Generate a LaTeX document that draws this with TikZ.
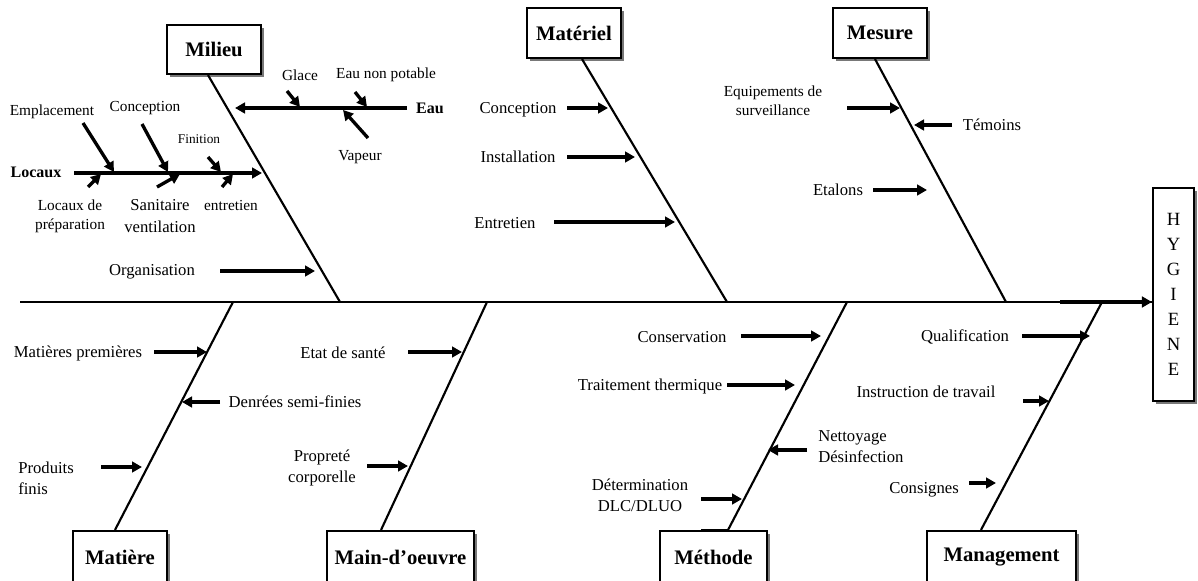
\documentclass[tikz,border=0pt]{standalone}
\usepackage{fontspec}
\setmainfont{Liberation Serif}
\usepackage{xcolor}
\usepackage{tikz}
\usetikzlibrary{positioning, arrows.meta, shadows}
\definecolor{ink}{RGB}{0,0,0}
\definecolor{shade}{RGB}{120,120,120}
\tikzset{
  catbox/.style  ={rectangle, draw=ink, line width=1.6pt, fill=white, inner sep=2pt,
                   font=\fontsize{15.5}{18}\selectfont\bfseries,
                   drop shadow={shadow xshift=2.6pt, shadow yshift=-2.6pt, fill=shade, opacity=1}},
  bone/.style    ={line width=1.6pt, color=ink},
  arr/.style     ={-{Triangle[length=7.5pt, width=8pt]}, line width=2.5pt, color=ink},
  lbl/.style     ={font=\fontsize{12.5}{16}\selectfont, inner sep=0pt, align=center},
  smalllbl/.style={lbl, font=\fontsize{11.5}{14.5}\selectfont},
  tinylbl/.style ={lbl, font=\fontsize{10}{12}\selectfont},
  headlbl/.style ={lbl, font=\fontsize{12}{14}\selectfont\bfseries},
}

\begin{document}
\begin{tikzpicture}[x=0.75pt, y=-0.75pt]
\useasboundingbox (0,0) rectangle (1198,581);
\clip (0,0) rectangle (1198,581);
% category boxes
\node[catbox, minimum width=70.5pt, minimum height=36.75pt] (mil) at (214,49.5) {Milieu};
\node[catbox, minimum width=70.5pt, minimum height=37.5pt] (mat) at (574,33) {Matériel};
\node[catbox, minimum width=70.5pt, minimum height=37.5pt] (mes) at (880,33) {Mesure};
\node[catbox, minimum width=70.5pt, minimum height=39pt] (mai) at (120,557) {Matière};
\node[catbox, minimum width=110.25pt, minimum height=39pt] (mdo) at (400.5,557) {Main-d'oeuvre};
\node[catbox, minimum width=80.25pt, minimum height=39pt] (met) at (713.5,557) {Méthode};
\node[catbox, minimum width=111.75pt, minimum height=39pt] (mgt) at (1001.5,557) {Management};
\node[catbox, font=\fontsize{14}{18.75}\selectfont, align=center, minimum width=30.75pt, minimum height=159.75pt] (hyg) at (1173.5,294.5) {H\\Y\\G\\I\\E\\N\\E};

% spine
\coordinate (tail) at (20,302);
\coordinate (head) at (1060,302);
\draw[bone] (tail) -- (tail -| hyg.west);
\draw[arr] (head) -- (head -| hyg.west);

% bones
\coordinate (jmil) at (340,302);
\coordinate (jmat) at (727,302);
\coordinate (jmes) at (1006,302);
\coordinate (jmai) at (233,302);
\coordinate (jmdo) at (487,302);
\coordinate (jmet) at (847,302);
\coordinate (jmgt) at (1102,302);
\draw[bone] ([xshift=-4.5pt]mil.south) -- (jmil);
\draw[bone] ([xshift=6pt]mat.south) -- (jmat);
\draw[bone] ([xshift=-3.75pt]mes.south) -- (jmes);
\draw[bone] ([xshift=-3.75pt]mai.north) -- (jmai);
\draw[bone] ([xshift=-14.6pt]mdo.north) -- (jmdo);
\draw[bone] ([xshift=10.9pt]met.north) -- (jmet);
\draw[bone] ([xshift=10.9pt]met.north) -- ([xshift=-9.4pt]met.north);
\draw[bone] ([xshift=-15.4pt]mgt.north) -- (jmgt);

% Milieu
\node[headlbl] (eau) at (430,108) {Eau};
\node[smalllbl] (glace) at (300,75) {Glace};
\node[smalllbl] (eaunp) at (386,75) {Eau non potable};
\node[smalllbl] (vapeur) at (360,157) {Vapeur};
\node[headlbl] (locaux) at (36,172) {Locaux};
\node[smalllbl] (emplac) at (52,112) {Emplacement};
\node[smalllbl] (concep1) at (145,108) {Conception};
\node[tinylbl] (finit) at (199,139) {Finition};
\node[smalllbl] (locprep) at (70,216) {Locaux de\\préparation};
\node[lbl] (sanit) at (160,216) {Sanitaire\\ventilation};
\node[smalllbl] (entret1) at (231,205) {entretien};
\node[lbl] (organ) at (152,272) {Organisation};
\coordinate (eau-s) at (407,108);      \coordinate (eau-e) at (235,108);
\coordinate (glace-s) at (287,91);     \coordinate (glace-e) at (300,107);
\coordinate (eaunp-s) at (355,92);     \coordinate (eaunp-e) at (367,107);
\coordinate (vapeur-s) at (368,138);   \coordinate (vapeur-e) at (343,110);
\coordinate (locaux-s) at (74,173);    \coordinate (locaux-e) at (262,173);
\coordinate (emplac-s) at (83,123);    \coordinate (emplac-e) at (114,172);
\coordinate (concep1-s) at (142,124);  \coordinate (concep1-e) at (168,172);
\coordinate (finit-s) at (208,157);    \coordinate (finit-e) at (221,172);
\coordinate (locprep-s) at (88,187);   \coordinate (locprep-e) at (101,174);
\coordinate (sanit-s) at (157,187);    \coordinate (sanit-e) at (180,174);
\coordinate (entret1-s) at (222,187);  \coordinate (entret1-e) at (233,174);
\coordinate (organ-s) at (220,271);    \coordinate (organ-e) at (315,271);
\draw[arr] (eau-s) -- (eau-e);
\draw[arr] (glace-s) -- (glace-e);
\draw[arr] (eaunp-s) -- (eaunp-e);
\draw[arr] (vapeur-s) -- (vapeur-e);
\draw[arr] (locaux-s) -- (locaux-e);
\draw[arr] (emplac-s) -- (emplac-e);
\draw[arr] (concep1-s) -- (concep1-e);
\draw[arr] (finit-s) -- (finit-e);
\draw[arr] (locprep-s) -- (locprep-e);
\draw[arr] (sanit-s) -- (sanit-e);
\draw[arr] (entret1-s) -- (entret1-e);
\draw[arr] (organ-s) -- (organ-e);

% Materiel
\node[lbl] (concep2) at (518,110) {Conception};
\node[lbl] (instal) at (518,157) {Installation};
\node[lbl] (entret2) at (505,223) {Entretien};
\coordinate (concep2-s) at (567,108);  \coordinate (concep2-e) at (608,108);
\coordinate (instal-s) at (567,157);   \coordinate (instal-e) at (635,157);
\coordinate (entret2-s) at (554,222);  \coordinate (entret2-e) at (675,222);
\draw[arr] (concep2-s) -- (concep2-e);
\draw[arr] (instal-s) -- (instal-e);
\draw[arr] (entret2-s) -- (entret2-e);

% Mesure
\node[smalllbl] (equip) at (773,101) {Equipements de\\surveillance};
\node[lbl] (temoin) at (992,125) {Témoins};
\node[lbl] (etalon) at (838,190) {Etalons};
\coordinate (equip-s) at (847,108);    \coordinate (equip-e) at (900,108);
\coordinate (temoin-s) at (952,125);   \coordinate (temoin-e) at (914,125);
\coordinate (etalon-s) at (873,190);   \coordinate (etalon-e) at (927,190);
\draw[arr] (equip-s) -- (equip-e);
\draw[arr] (temoin-s) -- (temoin-e);
\draw[arr] (etalon-s) -- (etalon-e);

% Matiere
\node[lbl] (matprem) at (78,353) {Matières premières};
\node[lbl] (denree) at (295,402) {Denrées semi-finies};
\node[lbl, anchor=west, align=left] (produit) at (18,478) {Produits\\finis};
\coordinate (matprem-s) at (154,352);  \coordinate (matprem-e) at (207,352);
\coordinate (denree-s) at (220,402);   \coordinate (denree-e) at (182,402);
\coordinate (produit-s) at (101,467);  \coordinate (produit-e) at (142,467);
\draw[arr] (matprem-s) -- (matprem-e);
\draw[arr] (denree-s) -- (denree-e);
\draw[arr] (produit-s) -- (produit-e);

% Main-d'oeuvre
\node[lbl] (sante) at (343,353) {Etat de santé};
\node[lbl] (propre) at (322,468) {Propreté\\corporelle};
\coordinate (sante-s) at (408,352);    \coordinate (sante-e) at (462,352);
\coordinate (propre-s) at (367,466);   \coordinate (propre-e) at (408,466);
\draw[arr] (sante-s) -- (sante-e);
\draw[arr] (propre-s) -- (propre-e);

% Methode
\node[lbl] (conserv) at (682,337) {Conservation};
\node[lbl] (traitem) at (650,386) {Traitement thermique};
\node[lbl, anchor=west, align=left] (nettoy) at (818,446.5) {Nettoyage\\Désinfection};
\node[lbl] (determ) at (640,495) {Détermination\\DLC/DLUO};
\coordinate (conserv-s) at (741,336);  \coordinate (conserv-e) at (821,336);
\coordinate (traitem-s) at (727,385);  \coordinate (traitem-e) at (795,385);
\coordinate (nettoy-s) at (807,450);   \coordinate (nettoy-e) at (768,450);
\coordinate (determ-s) at (701,499);   \coordinate (determ-e) at (742,499);
\draw[arr] (conserv-s) -- (conserv-e);
\draw[arr] (traitem-s) -- (traitem-e);
\draw[arr] (nettoy-s) -- (nettoy-e);
\draw[arr] (determ-s) -- (determ-e);

% Management
\node[lbl] (qualif) at (965,337) {Qualification};
\node[lbl] (instruc) at (926,392) {Instruction de travail};
\node[lbl] (consig) at (924,490) {Consignes};
\coordinate (qualif-s) at (1022,336);  \coordinate (qualif-e) at (1090,336);
\coordinate (instruc-s) at (1023,401); \coordinate (instruc-e) at (1049,401);
\coordinate (consig-s) at (969,483);   \coordinate (consig-e) at (996,483);
\draw[arr] (qualif-s) -- (qualif-e);
\draw[arr] (instruc-s) -- (instruc-e);
\draw[arr] (consig-s) -- (consig-e);
\end{tikzpicture}
\end{document}
